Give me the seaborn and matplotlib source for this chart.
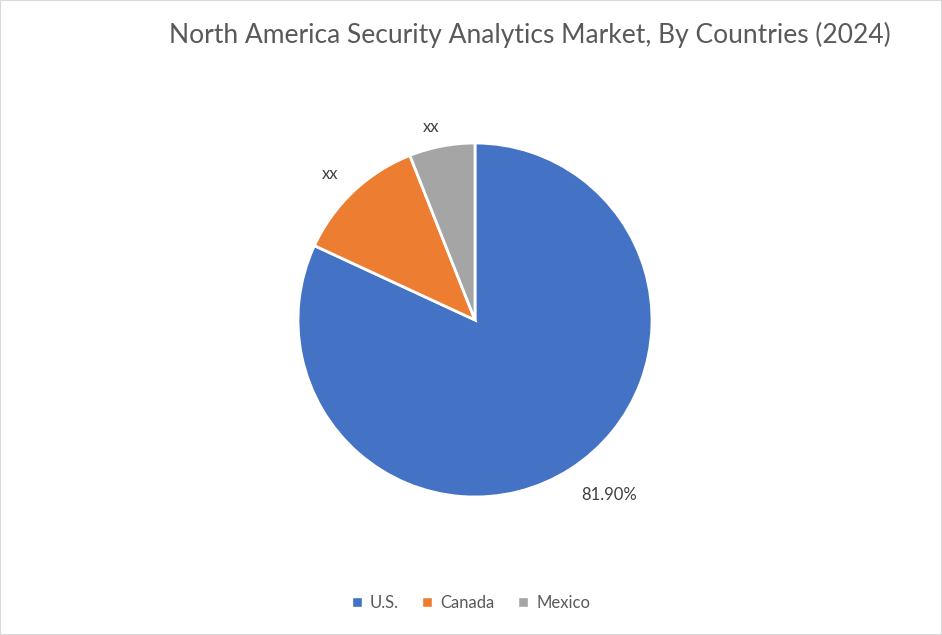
import matplotlib
matplotlib.use("Agg")
from matplotlib import pyplot as plt
from matplotlib.patches import Patch, Rectangle
from matplotlib import transforms
import seaborn as sns

# chart data
countries = ["U.S.", "Canada", "Mexico"]
shares = [81.9, 12.1, 6.0]
slice_labels = ["81.90%", "xx", "xx"]
colors = ["#4472C4", "#ED7D31", "#A5A5A5"]

sns.set_theme(style="white")
plt.rcParams["font.family"] = ["Lato", "DejaVu Sans"]

fig = plt.figure(figsize=(9.42, 6.35), dpi=100)

# pie axes, centred at (475, 320) px with radius ~177 px
W, H = 942, 635
cx, cy, r = 475, 320, 177
ax = fig.add_axes([(cx - r) / W, 1 - (cy + r) / H, 2 * r / W, 2 * r / H])

wedges, texts = ax.pie(shares, labels=slice_labels, colors=colors, startangle=90,
                       counterclock=False, labeldistance=1.17,
                       wedgeprops={"edgecolor": "white", "linewidth": 2},
                       textprops={"fontsize": 12, "color": "#404040"})
# small nudges so the labels sit where Excel puts them (pixels)
nudges = [(23, 0), (-3, -5), (-5, -10)]
for t, (dx, dy) in zip(texts, nudges):
    t.set_horizontalalignment("center")
    t.set_verticalalignment("center")
    t.set_transform(transforms.offset_copy(t.get_transform(), fig=fig, x=dx, y=dy, units="dots"))
ax.set_xlim(-1, 1)
ax.set_ylim(-1, 1)
ax.set_aspect("equal")
ax.axis("off")

fig.text(530 / W, 1 - 35 / H, "North America Security Analytics Market, By Countries (2024)",
         ha="center", va="center", fontsize=19, color="#595959")

handles = [Patch(facecolor=c, label=n) for c, n in zip(colors, countries)]
fig.legend(handles=handles, loc="center", bbox_to_anchor=(0.5, 1 - 603 / H), ncol=3,
           frameon=False, fontsize=12, handlelength=0.6, handleheight=0.6,
           handletextpad=0.5, columnspacing=1.4, labelcolor="#595959")

# thin light border round the chart
fig.patches.append(Rectangle((0, 0), 1, 1, transform=fig.transFigure, fill=False,
                             edgecolor="#D9D9D9", linewidth=1.5))

fig.savefig("out.png", dpi=100)
